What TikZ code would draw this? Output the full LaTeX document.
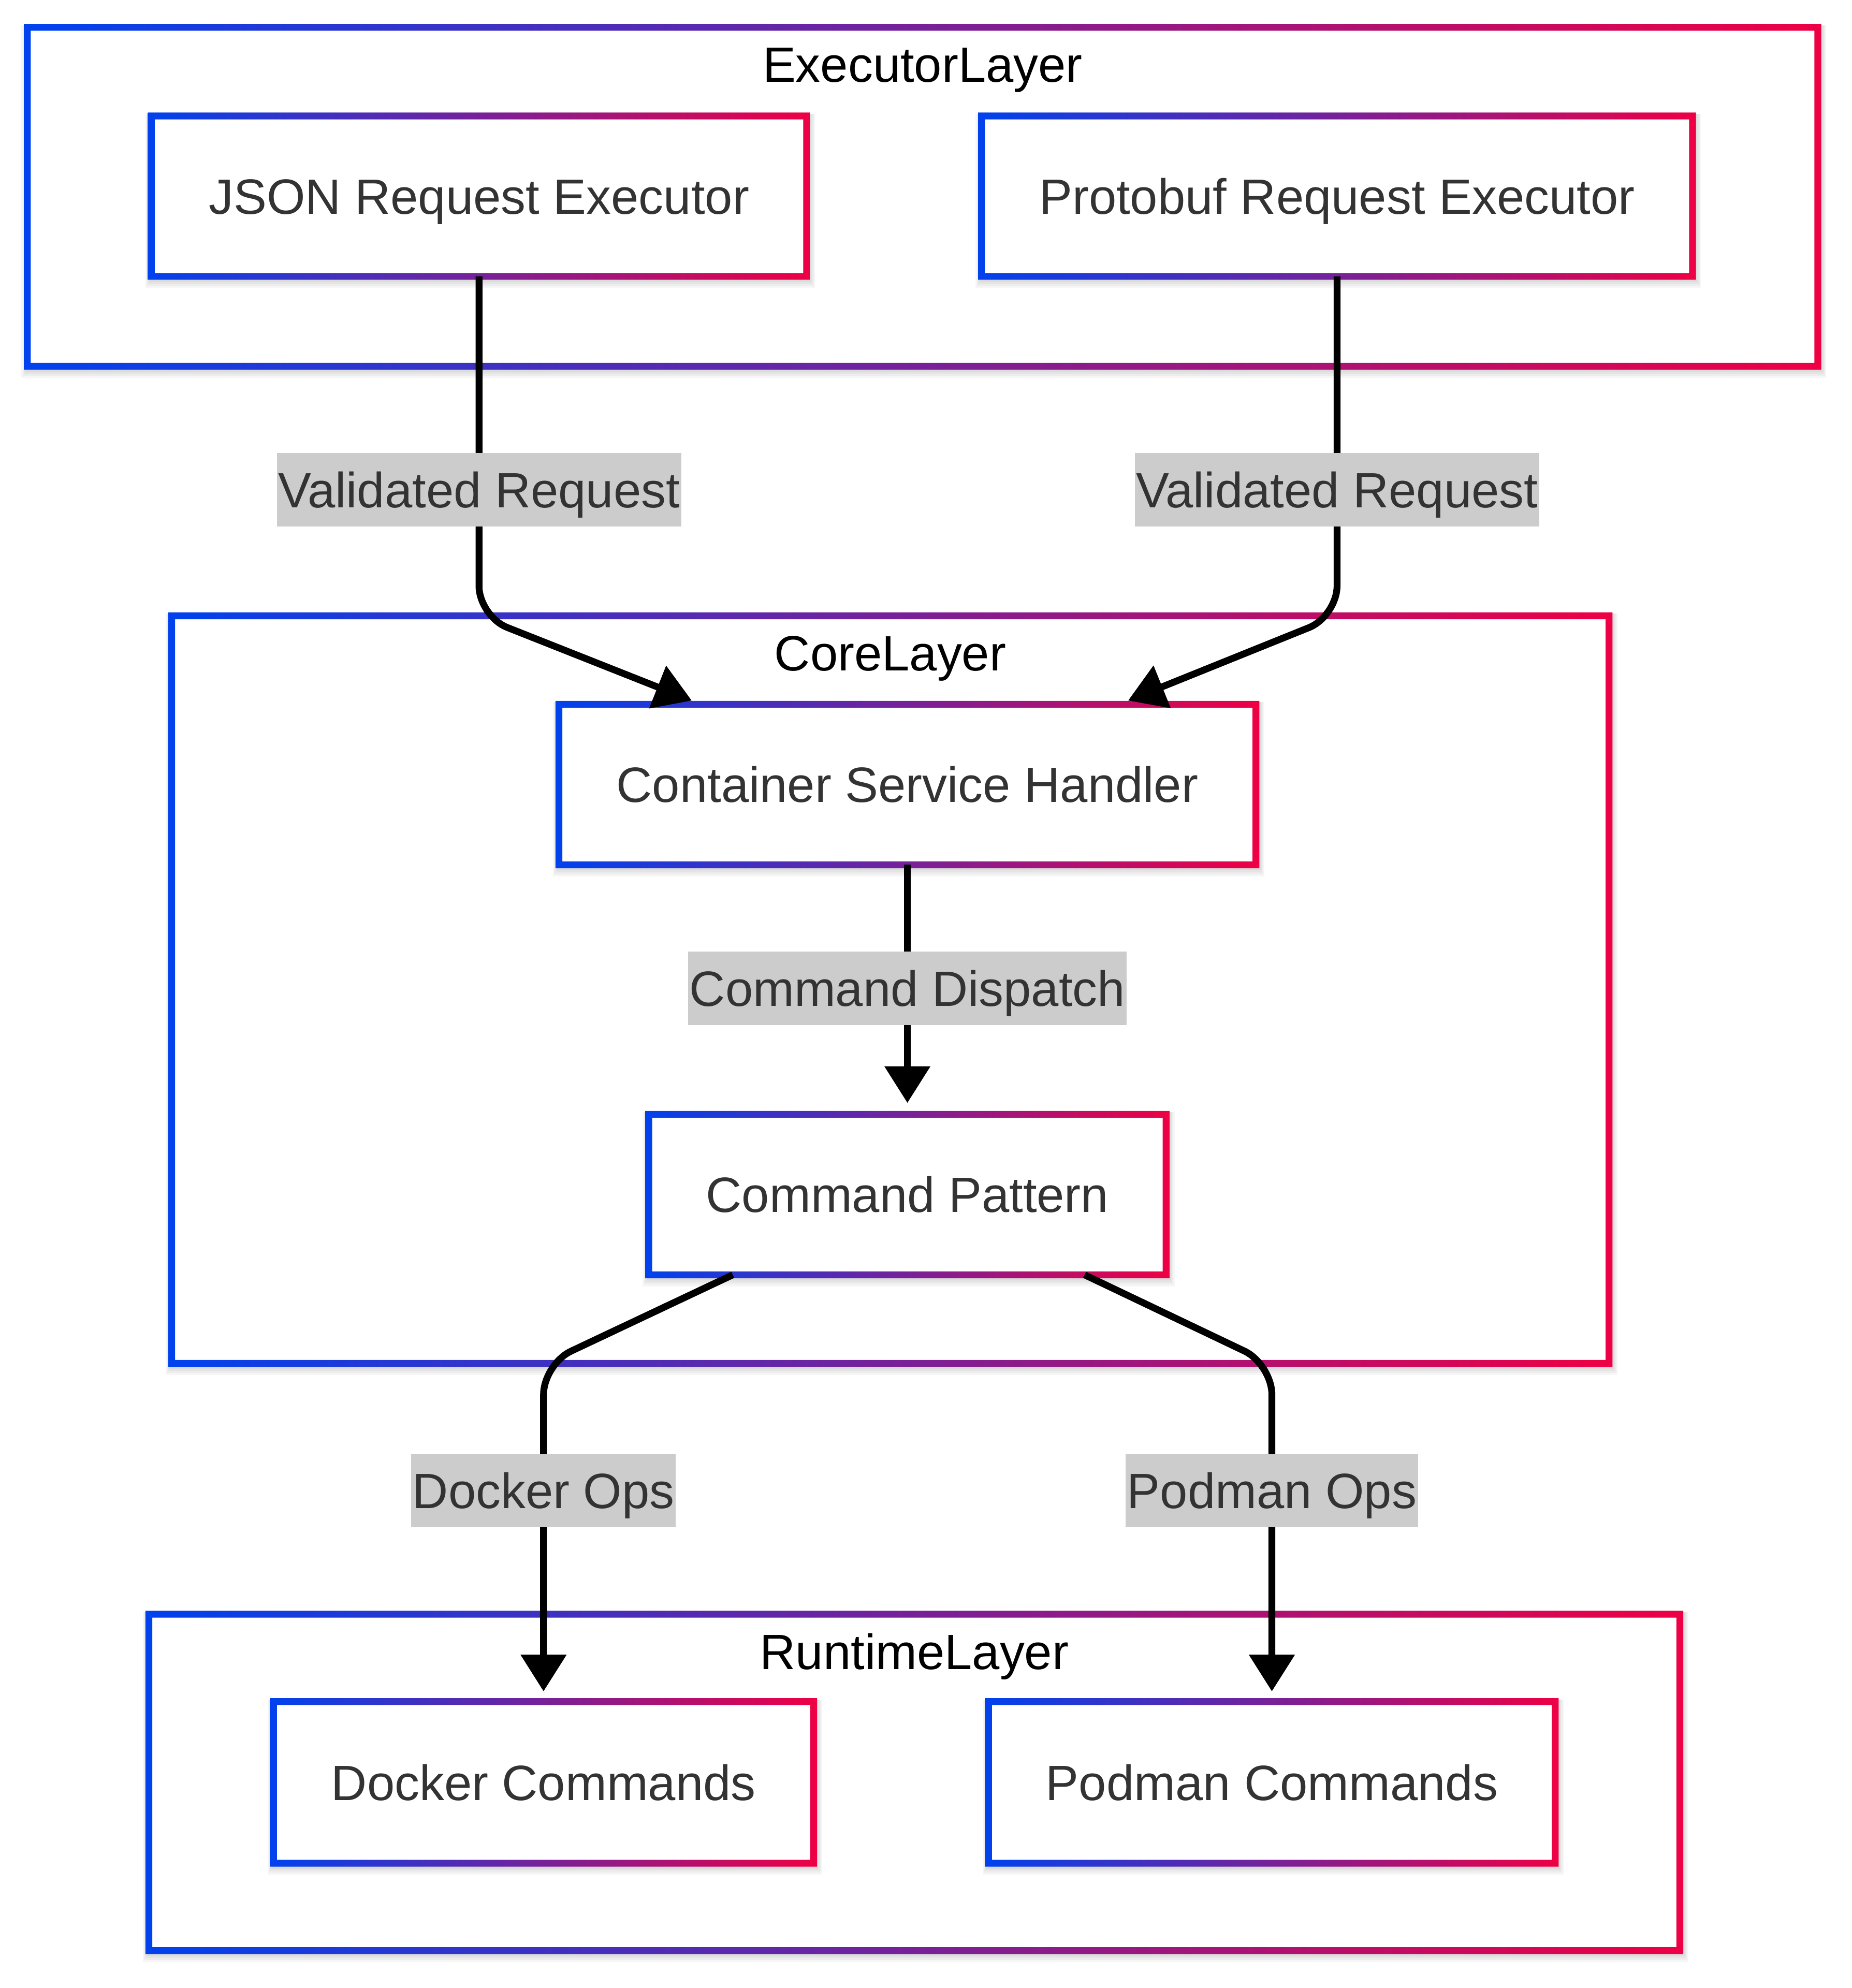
\documentclass[tikz,border=0pt]{standalone}
\usepackage{fontspec}
\setmainfont{Liberation Sans}
\usetikzlibrary{arrows.meta,calc,fit}
\definecolor{gblue}{HTML}{0042EE}
\definecolor{gred}{HTML}{EE0044}
\definecolor{txtc}{HTML}{333333}
\definecolor{lblbg}{HTML}{CCCCCC}
\newcommand\bw{2.7}
\newcommand\gradframe[1]{%
  \shade[left color=gblue,right color=gred,even odd rule]
    ([shift={(-\bw,\bw)}]#1.south west) rectangle ([shift={(\bw,-\bw)}]#1.north east)
    ([shift={(\bw,-\bw)}]#1.south west) rectangle ([shift={(-\bw,\bw)}]#1.north east);}
\newcommand\softshadow[1]{%
  \foreach \k in {1,...,4}{%
    \fill[black,opacity=0.035]
      ([shift={(-\bw-\k+2,\bw+1.6*\k)}]#1.south west) rectangle ([shift={(\bw+\k,-\bw+1)}]#1.north east);}}
\begin{document}
\begin{tikzpicture}[x=0.5pt,y=-0.5pt,
  mfont/.style={font=\fontsize{19.6pt}{23pt}\selectfont},
  box/.style={rectangle, inner sep=0pt, text=txtc, mfont, text height=14pt, text depth=0pt},
  clusterbox/.style={rectangle, inner sep=0pt},
  ctitle/.style={anchor=base, text=black, mfont, inner sep=0pt},
  elabel/.style={fill=lblbg, text=txtc, mfont, inner xsep=0.5pt, inner ysep=0pt, minimum height=29pt, text height=14pt, text depth=0pt},
  edge/.style={draw=black, line width=2.7pt, rounded corners=12pt, -{Triangle[length=14.5pt,width=17.5pt]}}
]
\useasboundingbox (0,0) rectangle (1463,1571);
\fill[white] (0,0) rectangle (1463,1571);

% clusters
\node[clusterbox, fit={(22,22) (1436,289)}] (exec) {};
\node[clusterbox, fit={(136,487) (1271,1077)}] (core) {};
\node[clusterbox, fit={(118,1276) (1327,1541)}] (runtime) {};
\softshadow{exec}\softshadow{core}\softshadow{runtime}
\fill[white] (exec.south west) rectangle (exec.north east);
\fill[white] (core.south west) rectangle (core.north east);
\fill[white] (runtime.south west) rectangle (runtime.north east);
\gradframe{exec}\gradframe{core}\gradframe{runtime}
\node[ctitle] (texec) at (729,65) {ExecutorLayer};
\node[ctitle] (tcore) at (703.5,530) {CoreLayer};
\node[ctitle] (truntime) at (722.5,1319) {RuntimeLayer};

% nodes
\node[box, minimum width=258.5pt, minimum height=63pt] (json) at (378.5,155) {};
\node[box, minimum width=280.5pt, minimum height=63pt] (proto) at (1056.5,155) {};
\node[box, minimum width=275pt, minimum height=63pt] (csh) at (717,620) {};
\node[box, minimum width=204pt, minimum height=63pt] (cp) at (717,944) {};
\node[box, minimum width=213pt, minimum height=63.5pt] (docker) at (429.5,1408.5) {};
\node[box, minimum width=223.5pt, minimum height=63.5pt] (podman) at (1005,1408.5) {};
\foreach \n in {json,proto,csh,cp,docker,podman}{\softshadow{\n}}
\foreach \n in {json,proto,csh,cp,docker,podman}{%
  \fill[white] (\n.south west) rectangle (\n.north east);}
\node[box] (tjson) at (json) {JSON Request Executor};
\node[box] (tproto) at (proto) {Protobuf Request Executor};
\node[box] (tcsh) at (csh) {Container Service Handler};
\node[box] (tcp) at (cp) {Command Pattern};
\node[box] (tdocker) at (docker) {Docker Commands};
\node[box] (tpodman) at (podman) {Podman Commands};
\foreach \n in {json,proto,csh,cp,docker,podman}{\gradframe{\n}}

% helper coordinates
\coordinate (yA) at (0,487);
\coordinate (yB) at (0,1078);
\coordinate (yL1) at (0,387);
\coordinate (yL2) at (0,781);
\coordinate (yL3) at (0,1178);

% edges
\draw[edge] (json.south) -- (json.south |- yA) -- ($(csh.north west)+(105,-3)$);
\draw[edge] (proto.south) -- (proto.south |- yA) -- ($(csh.north east)+(-101,-3)$);
\draw[edge] (csh.south) -- ($(cp.north)+(0,-9)$);
\draw[edge] ($(cp.south)+(-138,0)$) -- (docker.north |- yB) -- ($(docker.north)+(0,-8)$);
\draw[edge] ($(cp.south)+(140,0)$) -- (podman.north |- yB) -- ($(podman.north)+(0,-8)$);

% edge labels
\node[elabel] (l1) at (json.south |- yL1) {Validated Request};
\node[elabel] (l2) at (proto.south |- yL1) {Validated Request};
\node[elabel] (l3) at (csh.south |- yL2) {Command Dispatch};
\node[elabel] (l4) at (docker.north |- yL3) {Docker Ops};
\node[elabel] (l5) at (podman.north |- yL3) {Podman Ops};
\end{tikzpicture}
\end{document}
